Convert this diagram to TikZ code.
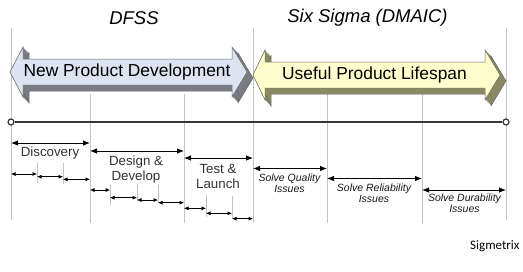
\documentclass[tikz,border=0pt]{standalone}
\usepackage{fontspec}
\setmainfont{Liberation Sans}
\newfontfamily\sigfont{Carlito}
\usetikzlibrary{arrows.meta}
\definecolor{npdface}{RGB}{220,227,241}
\definecolor{npdside}{RGB}{122,124,132}
\definecolor{ulface}{RGB}{255,255,206}
\definecolor{ulside}{RGB}{138,138,98}
\definecolor{gridgray}{RGB}{196,196,196}
\definecolor{tlcol}{RGB}{55,55,55}
\tikzset{
  gridline/.style={draw=gridgray, line width=0.9pt},
  phasearrow/.style={{Latex[length=7pt,width=5.5pt]}-{Latex[length=7pt,width=5.5pt]}, line width=0.8pt},
  subarrow/.style={{Latex[length=4.5pt,width=4pt]}-{Latex[length=4.5pt,width=4pt]}, line width=0.7pt},
  phaselabel/.style={font=\fontsize{13.3}{15}\selectfont, text=black!80, align=center, inner sep=0pt},
  solvelabel/.style={font=\fontsize{10.5}{11.2}\selectfont\itshape, text=black!90, align=center, inner sep=0pt},
  biglabel/.style={font=\fontsize{17.4}{20}\selectfont, inner sep=0pt},
  titlelabel/.style={font=\fontsize{18.5}{21}\selectfont\itshape, inner sep=0pt},
  endcircle/.style={circle, draw=tlcol, fill=white, line width=1.2pt, inner sep=0pt, minimum size=6pt},
}
\newcommand\npdpath[1]{\path[#1] (10,72) -- (23,47) -- (23,59) -- (232,59) -- (232,47) -- (247,72) -- (232,97) -- (232,85) -- (23,85) -- (23,97) -- cycle;}
\newcommand\ulpath[1]{\path[#1] (253,75) -- (265,50) -- (265,62) -- (485,62) -- (485,50) -- (500,75) -- (485,100) -- (485,88) -- (265,88) -- (265,100) -- cycle;}
\begin{document}
\begin{tikzpicture}[x=1pt,y=-1pt]
\useasboundingbox[fill=white] (0,0) rectangle (523,271);
% grid lines
\draw[gridline] (11,28) -- (11,220);
\draw[gridline] (90,94) -- (90,223);
\draw[gridline] (184,94) -- (184,223);
\draw[gridline] (253,28) -- (253,223);
\draw[gridline] (327,94) -- (327,223);
\draw[gridline] (422,94) -- (422,223);
\draw[gridline] (506,28) -- (506,220);
% short sub lines
\draw[gridline] (37,163) -- (37,183);
\draw[gridline] (63,163) -- (63,184);
\draw[gridline] (110,185) -- (110,205);
\draw[gridline] (137,185) -- (137,201);
\draw[gridline] (158,185) -- (158,203);
\draw[gridline] (206,195) -- (206,217);
\draw[gridline] (232,196) -- (232,219);
% titles
\node[titlelabel] (dfss) at (134,18) {DFSS};
\node[titlelabel] (dmaic) at (367.5,18) {Six Sigma (DMAIC)};
% big 3D arrows
\foreach \s in {0,0.5,...,6}{\npdpath{fill=npdside, shift={(\s,\s)}}}
\npdpath{draw=black!60, line width=0.5pt, shift={(6,6)}}
\npdpath{fill=npdface, draw=black!60, line width=0.5pt}
\foreach \s in {0,0.5,...,6}{\ulpath{fill=ulside, shift={(\s,\s)}}}
\ulpath{draw=black!60, line width=0.5pt, shift={(6,6)}}
\ulpath{fill=ulface, draw=black!60, line width=0.5pt}
\node[biglabel] (npd) at (127,72) {New Product Development};
\node[biglabel] (ul) at (374.5,74.5) {Useful Product Lifespan};
% timeline
\node[endcircle] (t0) at (11,122) {};
\node[endcircle] (t1) at (506,122) {};
\draw[tlcol, line width=2pt] (t0) -- (t1);
% phase arrows
\draw[phasearrow] (11,143) -- (90,143);
\draw[phasearrow] (90,151) -- (184,151);
\draw[phasearrow] (184,158) -- (253,158);
\draw[phasearrow] (253,168.5) -- (327,168.5);
\draw[phasearrow] (327,178.5) -- (422,178.5);
\draw[phasearrow] (422,190) -- (506,190);
% sub arrows
\draw[subarrow] (11,174) -- (37,174);
\draw[subarrow] (37,176.7) -- (63,176.7);
\draw[subarrow] (63,179.3) -- (90,179.3);
\draw[subarrow] (90,190) -- (110,190);
\draw[subarrow] (110,197.7) -- (137,197.7);
\draw[subarrow] (137,200) -- (158,200);
\draw[subarrow] (158,202.7) -- (184,202.7);
\draw[subarrow] (184,208.3) -- (206,208.3);
\draw[subarrow] (206,213.3) -- (232,213.3);
\draw[subarrow] (232,218.7) -- (253,218.7);
% labels
\node[phaselabel] (disc) at (50,153) {Discovery};
\node[phaselabel] (design) at (136,169.5) {Design \&\\Develop};
\node[phaselabel] (test) at (218,176.5) {Test \&\\Launch};
\node[solvelabel] (qual) at (289.5,183.5) {Solve Quality\\Issues};
\node[solvelabel] (rel) at (374,193.5) {Solve Reliability\\Issues};
\node[solvelabel] (dur) at (464.5,203.5) {Solve Durability\\Issues};
\node[font=\sigfont\fontsize{13}{15}\selectfont, anchor=west, inner sep=0pt] (sig) at (470,246) {Sigmetrix};
\end{tikzpicture}
\end{document}
